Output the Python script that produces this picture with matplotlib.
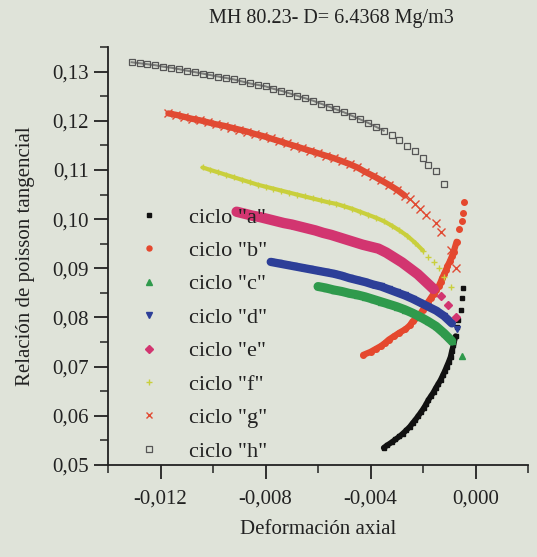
import matplotlib
matplotlib.use("Agg")
import matplotlib.pyplot as plt
from matplotlib.ticker import MultipleLocator, FuncFormatter

plt.rcParams['font.family'] = ['Liberation Serif', 'DejaVu Serif']

BG = "#dfe3d9"

# ciclo "a" - cuadrados negros
a_x = [-0.0035, -0.00337, -0.0032, -0.00305, -0.0029, -0.00277, -0.00263, -0.0025, -0.0024, -0.00229,
       -0.00218, -0.00207, -0.00197, -0.00188, -0.0018, -0.0017, -0.0016, -0.00152, -0.00143, -0.00133,
       -0.00125, -0.00117, -0.0011, -0.00102, -0.00095, -0.0009, -0.00084, -0.00076, -0.00072, -0.00065,
       -0.00057, -0.00053, -0.00046]
a_y = [0.0535, 0.0540, 0.0546, 0.0552, 0.0558, 0.0564, 0.0571, 0.0578, 0.0585, 0.0592,
       0.0600, 0.0608, 0.0616, 0.0624, 0.0632, 0.0640, 0.0648, 0.0656, 0.0664, 0.0673,
       0.0682, 0.0691, 0.0700, 0.0710, 0.0720, 0.0732, 0.0744, 0.0762, 0.0781, 0.0795,
       0.0816, 0.0840, 0.0860]

# ciclo "b"
b_x = [-0.00427, -0.0040, -0.0038, -0.0036, -0.00345, -0.0033, -0.0031, -0.0029, -0.00267, -0.0025,
       -0.0024, -0.0022, -0.0021, -0.0020, -0.0019, -0.0018, -0.0017, -0.0016, -0.0015, -0.0014,
       -0.00133, -0.00127, -0.0012, -0.00113, -0.00107, -0.00098, -0.0009, -0.00083, -0.00072, -0.00061,
       -0.00053, -0.00046, -0.00042]
b_y = [0.0724, 0.0730, 0.0736, 0.0742, 0.0748, 0.0755, 0.0762, 0.0769, 0.0776, 0.0784,
       0.0792, 0.0800, 0.0808, 0.0816, 0.0824, 0.0832, 0.0840, 0.0848, 0.0856, 0.0864,
       0.0872, 0.0880, 0.0888, 0.0896, 0.0904, 0.0914, 0.0924, 0.0934, 0.0954, 0.0979,
       0.0996, 0.1013, 0.1034]

# ciclo "c"
c_x = [-0.0060, -0.0057, -0.0054, -0.0051, -0.0048, -0.0045, -0.0042, -0.0039, -0.0036, -0.0033,
       -0.0030, -0.0027, -0.0024, -0.0021, -0.0018, -0.0015, -0.0012, -0.0009, -0.00053]
c_y = [0.0863, 0.0860, 0.0856, 0.0853, 0.0849, 0.0846, 0.0842, 0.0837, 0.0832, 0.0827,
       0.0822, 0.0816, 0.0809, 0.0801, 0.0792, 0.0782, 0.0768, 0.0752, 0.0722]

# ciclo "d"
d_x = [-0.0078, -0.0075, -0.0072, -0.0069, -0.0066, -0.0063, -0.0060, -0.0057, -0.0054, -0.0051,
       -0.0048, -0.0045, -0.0042, -0.0039, -0.0036, -0.0033, -0.0030, -0.0027, -0.0024, -0.0021,
       -0.0018, -0.0015, -0.0012, -0.0009, -0.0007]
d_y = [0.0913, 0.0910, 0.0907, 0.0904, 0.0901, 0.0898, 0.0895, 0.0892, 0.0889, 0.0885,
       0.0880, 0.0876, 0.0872, 0.0867, 0.0863, 0.0857, 0.0851, 0.0845, 0.0838, 0.0830,
       0.0822, 0.0814, 0.0803, 0.0788, 0.0776]

# ciclo "e"
e_x = [-0.0091, -0.0088, -0.0085, -0.0082, -0.0079, -0.0076, -0.0073, -0.0070, -0.0067, -0.0064,
       -0.0061, -0.0058, -0.0055, -0.0052, -0.0049, -0.0046, -0.0043, -0.0040, -0.0037, -0.0034,
       -0.0031, -0.0028, -0.0025, -0.0022, -0.0019, -0.0016, -0.0013, -0.00103, -0.00076]
e_y = [0.1015, 0.1011, 0.1007, 0.1004, 0.1000, 0.0996, 0.0992, 0.0989, 0.0985, 0.0981,
       0.0977, 0.0972, 0.0968, 0.0963, 0.0958, 0.0953, 0.0948, 0.0944, 0.0940, 0.0932,
       0.0922, 0.0912, 0.0900, 0.0888, 0.0873, 0.0858, 0.0844, 0.0826, 0.0801]

# ciclo "f"
f_x = [-0.0104, -0.0101, -0.0098, -0.0095, -0.0092, -0.0089, -0.0086, -0.0083, -0.0080, -0.0077,
       -0.0074, -0.0071, -0.0068, -0.0065, -0.0062, -0.0059, -0.0056, -0.0053, -0.0050, -0.0047,
       -0.0044, -0.0041, -0.0038, -0.0035, -0.0032, -0.0029, -0.0026, -0.0023, -0.0020, -0.0018,
       -0.0016, -0.0014, -0.0012, -0.00095]
f_y = [0.1105, 0.1100, 0.1095, 0.1090, 0.1085, 0.1080, 0.1075, 0.1070, 0.1066, 0.1062,
       0.1058, 0.1054, 0.1050, 0.1046, 0.1042, 0.1038, 0.1034, 0.1031, 0.1026, 0.1021,
       0.1015, 0.1009, 0.1003, 0.0996, 0.0987, 0.0977, 0.0966, 0.0952, 0.0936, 0.0922,
       0.0912, 0.0900, 0.0883, 0.0862]

# ciclo "g"
g_x = [-0.0117, -0.0114, -0.0111, -0.0108, -0.0105, -0.0102, -0.0099, -0.0096, -0.0093, -0.0090,
       -0.0087, -0.0084, -0.0081, -0.0078, -0.0075, -0.0072, -0.0069, -0.0066, -0.0063, -0.0060,
       -0.0057, -0.0054, -0.0051, -0.0048, -0.0045, -0.0042, -0.0039, -0.0036, -0.0033, -0.0030,
       -0.0027, -0.0025, -0.0023, -0.0021, -0.0019, -0.0015, -0.0013, -0.00095, -0.00076]
g_y = [0.1215, 0.1212, 0.1208, 0.1204, 0.1201, 0.1197, 0.1193, 0.1190, 0.1186, 0.1182,
       0.1178, 0.1173, 0.1169, 0.1164, 0.1159, 0.1154, 0.1149, 0.1144, 0.1139, 0.1134,
       0.1129, 0.1124, 0.1118, 0.1112, 0.1105, 0.1096, 0.1088, 0.1079, 0.1070, 0.1060,
       0.1048, 0.1040, 0.1031, 0.1020, 0.1009, 0.0993, 0.0973, 0.0938, 0.0901]

# ciclo "h" - cuadrados abiertos
h_x = [-0.0131, -0.0128, -0.0125, -0.0122, -0.0119, -0.0116, -0.0113, -0.0110, -0.0107, -0.0104,
       -0.0101, -0.0098, -0.0095, -0.0092, -0.0089, -0.0086, -0.0083, -0.0080, -0.0077, -0.0074,
       -0.0071, -0.0068, -0.0065, -0.0062, -0.0059, -0.0056, -0.0053, -0.0050, -0.0047, -0.0044,
       -0.0041, -0.0038, -0.0035, -0.0032, -0.0029, -0.0026, -0.0023, -0.0020, -0.0018, -0.0015,
       -0.0012]
h_y = [0.1319, 0.1317, 0.1315, 0.1313, 0.1310, 0.1308, 0.1305, 0.1302, 0.1299, 0.1296,
       0.1293, 0.1290, 0.1287, 0.1284, 0.1280, 0.1276, 0.1273, 0.1270, 0.1265, 0.1261,
       0.1256, 0.1251, 0.1246, 0.1241, 0.1235, 0.1229, 0.1223, 0.1217, 0.1210, 0.1203,
       0.1196, 0.1188, 0.1180, 0.1171, 0.1161, 0.1149, 0.1138, 0.1125, 0.1111, 0.1097,
       0.1072]

# nombre, x, y, marcador, color, tamaño, relleno, puntos en banda densa, grosor de banda
series = [
    ('ciclo "a"', a_x, a_y, 's', "#111111", 3.5, True, 28, 4.0),
    ('ciclo "b"', b_x, b_y, 'o', "#e5482e", 4.0, True, 29, 4.5),
    ('ciclo "c"', c_x, c_y, '^', "#2f9a4c", 5.0, True, 18, 6.5),
    ('ciclo "d"', d_x, d_y, 'v', "#2d3f98", 5.0, True, 24, 6.0),
    ('ciclo "e"', e_x, e_y, 'D', "#d23570", 4.5, True, 26, 7.5),
    ('ciclo "f"', f_x, f_y, '+', "#c9cf3c", 4.5, True, 29, 3.0),
    ('ciclo "g"', g_x, g_y, 'x', "#e14a33", 5.5, True, 31, 4.5),
    ('ciclo "h"', h_x, h_y, 's', "#555555", 4.5, False, 33, 1.5),
]

fig = plt.figure(figsize=(5.37, 5.57), dpi=100, facecolor=BG)
ax = fig.add_axes([108 / 537, 1 - 465 / 557, 420 / 537, 418 / 557])
ax.set_facecolor(BG)

for name, xs, ys, mk, col, ms, filled, n, lw in series:
    if not filled:
        ax.plot(xs[:n], ys[:n], '-', color=col, lw=lw, alpha=0.7)
        ax.plot(xs, ys, linestyle='none', marker=mk, ms=ms, mfc='none',
                mec=col, mew=0.9, label=name)
    else:
        ax.plot(xs[:n], ys[:n], '-', color=col, lw=lw, solid_capstyle='round')
        ax.plot(xs, ys, linestyle='none', marker=mk, ms=ms, color=col,
                mec=col, mew=1.0, label=name)

ax.set_xlim(-0.014, 0.002)
ax.set_ylim(0.05, 0.135)
ax.xaxis.set_major_locator(MultipleLocator(0.004))
ax.xaxis.set_minor_locator(MultipleLocator(0.002))
ax.yaxis.set_major_locator(MultipleLocator(0.01))
ax.yaxis.set_minor_locator(MultipleLocator(0.005))
ax.xaxis.set_major_formatter(FuncFormatter(lambda v, p: f"{v:.3f}".replace('.', ',').replace('-0,000', '0,000')))
ax.yaxis.set_major_formatter(FuncFormatter(lambda v, p: f"{v:.2f}".replace('.', ',')))

for s in ['top', 'right']:
    ax.spines[s].set_visible(False)
for s in ['left', 'bottom']:
    ax.spines[s].set_linewidth(1.3)
    ax.spines[s].set_color("#222222")

ax.tick_params(which='major', direction='out', length=10, width=1.3, labelsize=15, colors="#222222", pad=4)
ax.tick_params(which='minor', direction='out', length=6, width=1.1, colors="#222222")
ax.tick_params(axis='x', pad=8)

ax.set_xlabel("Deformación axial", fontsize=15, color="#222222", labelpad=8)
ax.set_ylabel("Relación de poisson tangencial", fontsize=15, color="#222222", labelpad=12)

fig.text(331 / 537, 1 - 18 / 557, "MH 80.23- D= 6.4368 Mg/m3", fontsize=14.5,
         ha='center', va='center', color="#222222")

leg = ax.legend(ax.lines[1::2], [s[0] for s in series],
                loc='upper left', bbox_to_anchor=(140 / 537, 1 - 207 / 557),
                bbox_transform=fig.transFigure, frameon=False, fontsize=16,
                handlelength=0.8, handletextpad=1.4, labelspacing=0.58,
                numpoints=1, borderpad=0, borderaxespad=0, markerscale=0.9)
for t in leg.get_texts():
    t.set_color("#222222")

fig.savefig("out.png", dpi=100, facecolor=BG)
